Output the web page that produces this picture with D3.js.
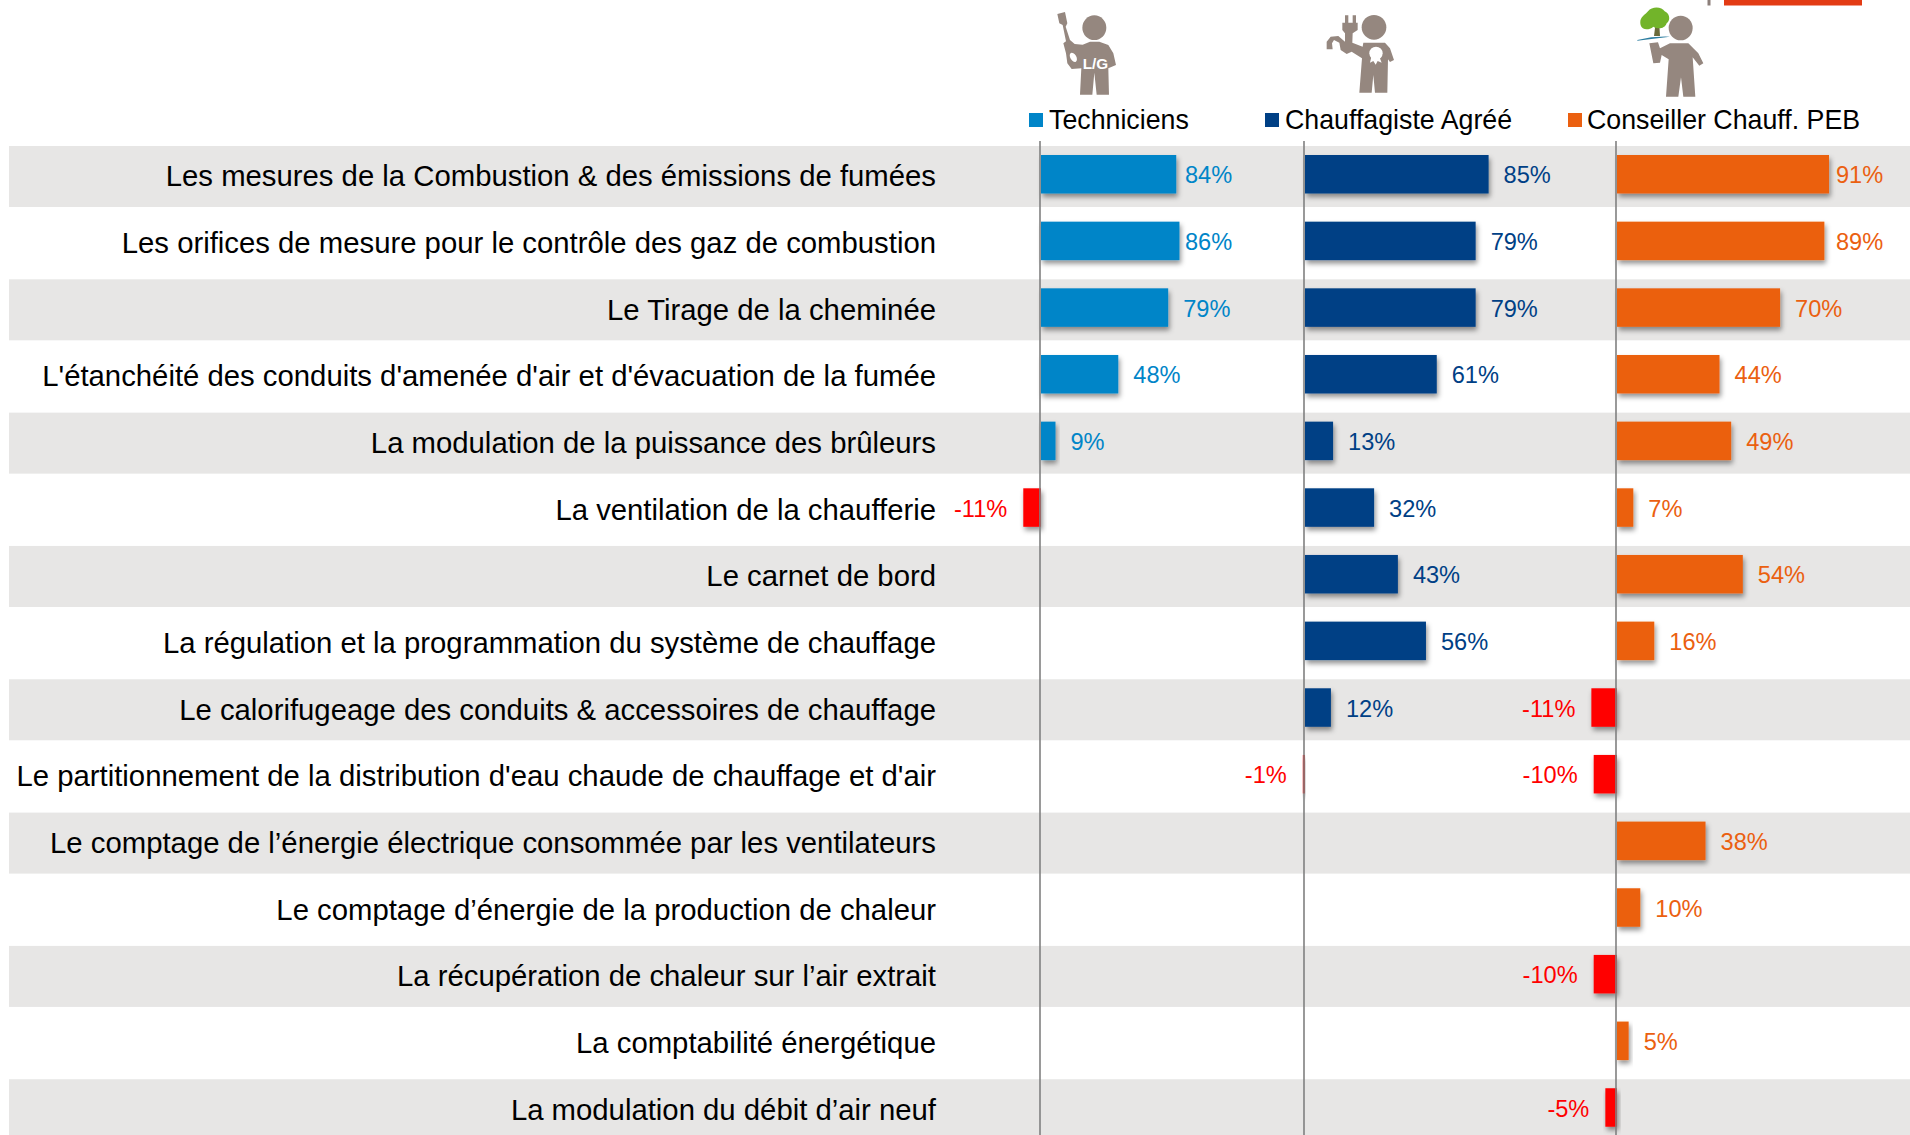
<!DOCTYPE html>
<html><head><meta charset="utf-8">
<script src="https://cdn.jsdelivr.net/npm/d3@7"></script>
<style>
html,body{margin:0;padding:0;background:#fff;overflow:hidden}
text{font-family:"Liberation Sans",Arial,sans-serif}
</style></head><body>
<svg id="c" width="1910" height="1135"></svg>
<script>
const categories = [
"Les mesures de la Combustion & des émissions de fumées",
"Les orifices de mesure pour le contrôle des gaz de combustion",
"Le Tirage de la cheminée",
"L'étanchéité des conduits d'amenée d'air et d'évacuation de la fumée",
"La modulation de la puissance des brûleurs",
"La ventilation de la chaufferie",
"Le carnet de bord",
"La régulation et la programmation du système de chauffage",
"Le calorifugeage des conduits & accessoires de chauffage",
"Le partitionnement de la distribution d'eau chaude de chauffage et d'air",
"Le comptage de l’énergie électrique consommée par les ventilateurs",
"Le comptage d’énergie de la production de chaleur",
"La récupération de chaleur sur l’air extrait",
"La comptabilité énergétique",
"La modulation du débit d’air neuf"];
const techniciens = [84,86,79,48,9,-11,null,null,null,null,null,null,null,null,null];
const chauffagiste = [85,79,79,61,13,32,43,56,12,-1,null,null,null,null,null];
const conseiller = [91,89,70,44,49,7,54,16,-11,-10,38,10,-10,5,-5];
const seriesNames = ["Techniciens","Chauffagiste Agré\u00e9","Conseiller Chauff. PEB"];

const svg = d3.select("#c");
const defs = svg.append("defs");
const f = defs.append("filter").attr("id","sh").attr("x","-20%").attr("y","-20%").attr("width","150%").attr("height","170%");
f.append("feDropShadow").attr("dx",1.5).attr("dy",3.5).attr("stdDeviation",2.5).attr("flood-color","#000").attr("flood-opacity",0.42);
const hb = defs.append("filter").attr("id","halo").attr("x","-20%").attr("y","-20%").attr("width","140%").attr("height","140%");
hb.append("feGaussianBlur").attr("stdDeviation",1.2);

const rowStep = 66.66, rowsTop = 146;
const y = d3.scaleBand().domain(categories).range([rowsTop, rowsTop + rowStep*categories.length]).paddingInner(0.0);
const bandH = 61, barOff = 9, barH = 38.5, RED = "#FF0000";

// rows
svg.append("g").selectAll("rect").data(categories.filter((d,i)=>i%2===0)).join("rect")
  .attr("x",9).attr("width",1901).attr("y",d=>y(d)).attr("height",bandH).attr("fill","#E7E6E5");

// category labels
svg.append("g").selectAll("text").data(categories).join("text")
  .attr("x",936).attr("y",d=>y(d)+29.8).attr("dy","0.36em").attr("text-anchor","end")
  .attr("font-size",29.3).attr("fill","#000").text(d=>d);

const cols = [
 {name:seriesNames[0],vals:techniciens,axis:1040,k:1.61,color:"#0085C8",maxX:1185,sq:1029,tx:1049,fs:26.75},
 {name:seriesNames[1],vals:chauffagiste,axis:1304,k:2.16,color:"#004085",maxX:1e4,sq:1265,tx:1285,fs:26.75},
 {name:seriesNames[2],vals:conseiller,axis:1616,k:2.33,color:"#EB6010",maxX:1836,sq:1568,tx:1587,fs:26.75}
];
cols.forEach(c=>{
  const x = d3.scaleLinear().domain([0,100]).range([c.axis+1, c.axis+1+c.k*100]);
  const data = categories.map((cat,i)=>({cat,v:c.vals[i]})).filter(d=>d.v!==null);
  const g = svg.append("g");
  g.selectAll("rect").data(data).join("rect")
    .attr("x",d=>Math.min(x(0),x(d.v))).attr("width",d=>Math.abs(x(d.v)-x(0)))
    .attr("y",d=>y(d.cat)+barOff).attr("height",barH)
    .attr("fill",d=>d.v<0?RED:c.color).attr("filter","url(#sh)");
  g.selectAll("text").data(data).join("text")
    .attr("x",d=>d.v<0?x(d.v)-16:Math.min(x(d.v)+15,c.maxX))
    .attr("y",d=>y(d.cat)+28.8).attr("dy","0.36em")
    .attr("text-anchor",d=>d.v<0?"end":"start")
    .attr("font-size",23.6).attr("fill",d=>d.v<0?RED:c.color)
    .text(d=>String(d.v)+"%");
  svg.append("line").attr("x1",c.axis).attr("x2",c.axis).attr("y1",141).attr("y2",1135)
    .attr("stroke","#808080").attr("stroke-width",1.6);
  svg.append("rect").attr("x",c.sq).attr("y",113).attr("width",14).attr("height",14).attr("fill",c.color);
  svg.append("text").attr("x",c.tx).attr("y",129).attr("font-size",c.fs).attr("fill","#000").text(c.name);
});

// top-right fragment
svg.append("rect").attr("x",1724).attr("y",0).attr("width",138).attr("height",5.5).attr("fill","#E33B14");
svg.append("rect").attr("x",1707.5).attr("y",0).attr("width",3).attr("height",5.5).attr("fill","#8c7f7a");

// icons
const IC = "#95877F";
function icon(ox){return svg.append("g").attr("transform",`translate(${ox},0) scale(0.3333)`).attr("fill",IC);}
// Technicien
let a = icon(1040);
a.append("ellipse").attr("cx",163).attr("cy",83).attr("rx",36).attr("ry",37);
a.append("path").attr("d","M52 42L75 36L82 70L77 80L90 120L104 132L128 134L150 125H178L205 135L220 160L228 195L205 205L207 284H170L163 218L157 284H120L124 205L95 207L82 190L78 160L70 130L78 124L68 75L58 70Z");
a.append("ellipse").attr("cx",100).attr("cy",172).attr("rx",9).attr("ry",15).attr("fill","#fff").attr("transform","rotate(-30 100 172)");
a.append("text").attr("x",128).attr("y",207).attr("font-size",46).attr("font-weight","bold").attr("fill","#fff").text("L/G");
// Chauffagiste
a = icon(1310);
a.append("ellipse").attr("cx",192).attr("cy",82).attr("rx",37).attr("ry",37);
a.append("path").attr("d","M97 68H105V46H115V68H128V46H138V68H143V90L128 100L127 128L158 140L160 128H225L240 145L252 180L240 186L234 178L232 278H195L190 225L185 278H148L156 175L125 155L110 162L92 150L88 128L72 120L66 130L68 148L50 148L50 125L62 110L85 108L105 125V100L97 90Z");
a.append("circle").attr("cx",198).attr("cy",160).attr("r",20).attr("fill","#fff");
a.append("path").attr("d","M184 170L208 170L215 188L203 183L197 194L190 183L180 188Z").attr("fill","#fff");
// Conseiller
a = icon(1620);
a.append("ellipse").attr("cx",182).attr("cy",84).attr("rx",36).attr("ry",37);
a.append("path").attr("d","M88 130L114 127L120 145L150 130H205L235 160L250 190L238 197L218 172L226 290H190L183 232L175 290H138L146 178L125 165L120 188L100 190Z");
const t = svg.append("g").attr("transform","translate(1620,0) scale(0.3333)");
t.append("path").attr("d","M52 120Q100 108 150 110Q100 116 52 122Z").attr("fill","#2C7DA0");
t.append("path").attr("d","M102 108L106 76H118L120 108Z").attr("fill","#6A6A3A");
t.append("path").attr("d","M62 76C56 52 74 46 84 34C96 18 126 20 134 34C150 40 152 62 140 70C134 88 112 88 100 80C86 92 66 90 62 76Z").attr("fill","#72B42C").attr("filter","url(#halo)");
</script>
</body></html>
